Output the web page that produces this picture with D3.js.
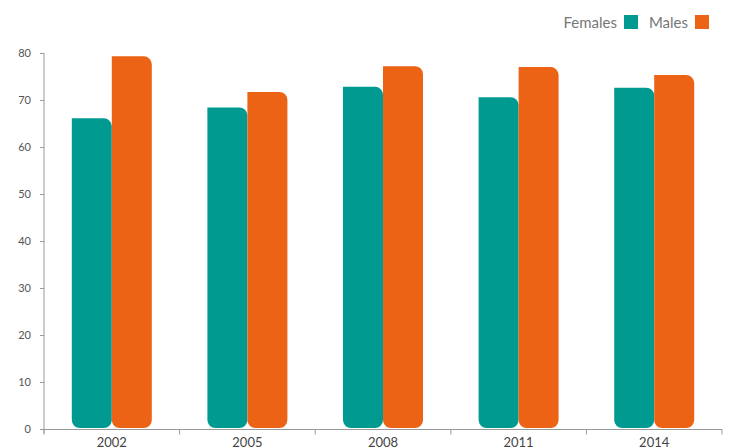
<!DOCTYPE html>
<html>
<head>
<meta charset="utf-8">
<script src="https://cdn.jsdelivr.net/npm/d3@7"></script>
<style>
  html, body { margin: 0; padding: 0; background: #fff; }
  svg { display: block; font-family: Lato, "Open Sans", sans-serif; }
</style>
</head>
<body>
<svg id="chart" width="732" height="448"></svg>
<script>
// Survey years and values for each group
const years = ["2002", "2005", "2008", "2011", "2014"];
const females = [66.1, 68.4, 72.8, 70.6, 72.6];
const males = [79.3, 71.7, 77.2, 77.0, 75.3];
const seriesNames = ["Females", "Males"];
const seriesColors = ["#009a90", "#ec6316"];
const yTicks = [0, 10, 20, 30, 40, 50, 60, 70, 80];

const svg = d3.select("#chart");
const margin = { left: 44, right: 10, top: 53, bottom: 19 };
const W = 732, H = 448;

const x = d3.scaleBand().domain(years).range([margin.left, 722]);
const sub = d3.scaleBand().domain(seriesNames).range([0, 80]);
const y = d3.scaleLinear().domain([0, 80]).range([429, margin.top]);

// Bar outline: square top-left, rounded top-right and both bottom corners
function barPath(x0, y0, w, h, r) {
  const rr = Math.min(r, w / 2, h / 2);
  return `M${x0},${y0}` +
    `H${x0 + w - rr}` +
    `A${rr},${rr} 0 0 1 ${x0 + w},${y0 + rr}` +
    `V${y0 + h - rr}` +
    `A${rr},${rr} 0 0 1 ${x0 + w - rr},${y0 + h}` +
    `H${x0 + rr}` +
    `A${rr},${rr} 0 0 1 ${x0},${y0 + h - rr}` +
    `Z`;
}

const rows = years.map((yr, i) => ({ year: yr, values: [females[i], males[i]] }));

const groups = svg.append("g").selectAll("g").data(rows).join("g")
  .attr("transform", d => `translate(${x(d.year) + x.bandwidth() / 2 - 40},0)`);

groups.selectAll("path").data(d => d.values.map((v, k) => ({ v, k })))
  .join("path")
  .attr("fill", d => seriesColors[d.k])
  .attr("d", d => {
    const top = y(d.v);
    return barPath(sub(seriesNames[d.k]), top, sub.bandwidth(), y(0) - 1 - top, 8);
  });

// Y axis
const yAxis = svg.append("g")
  .attr("transform", `translate(${margin.left},0)`)
  .call(d3.axisLeft(y).tickValues(yTicks).tickSize(4).tickPadding(9).tickSizeOuter(0));
yAxis.select(".domain").attr("stroke", "#999").attr("d", `M0,${y(80)}V${y(0) + 4}`);
yAxis.selectAll(".tick line").attr("stroke", "#999");
yAxis.selectAll(".tick text").attr("fill", "#555").style("font-size", "11px")
  .style("font-family", "Lato, 'Open Sans', sans-serif");

// X axis with ticks at band boundaries
const xAxisG = svg.append("g").attr("transform", `translate(0,${y(0) + 0.5})`);
xAxisG.append("line").attr("x1", margin.left).attr("x2", 722).attr("stroke", "#999");
const bounds = years.map(d => x(d)).concat([x.range()[1]]);
xAxisG.selectAll("line.tk").data(bounds).join("line").attr("class", "tk")
  .attr("x1", d => d).attr("x2", d => d).attr("y1", 0).attr("y2", 5).attr("stroke", "#999");
xAxisG.selectAll("text").data(years).join("text")
  .attr("x", d => x(d) + x.bandwidth() / 2)
  .attr("y", 17)
  .attr("text-anchor", "middle")
  .attr("fill", "#444")
  .style("font-size", "13px")
  .text(d => d);

// Legend
const legend = svg.append("g");
const legendItems = [
  { name: "Females", tx: 617, sx: 624 },
  { name: "Males", tx: 688, sx: 695 }
];
legendItems.forEach((it, k) => {
  legend.append("text").attr("x", it.tx).attr("y", 28).attr("text-anchor", "end")
    .attr("fill", "#777").style("font-size", "15px").text(it.name);
  legend.append("rect").attr("x", it.sx).attr("y", 15).attr("width", 14).attr("height", 14)
    .attr("fill", seriesColors[k]);
});
</script>
</body>
</html>
